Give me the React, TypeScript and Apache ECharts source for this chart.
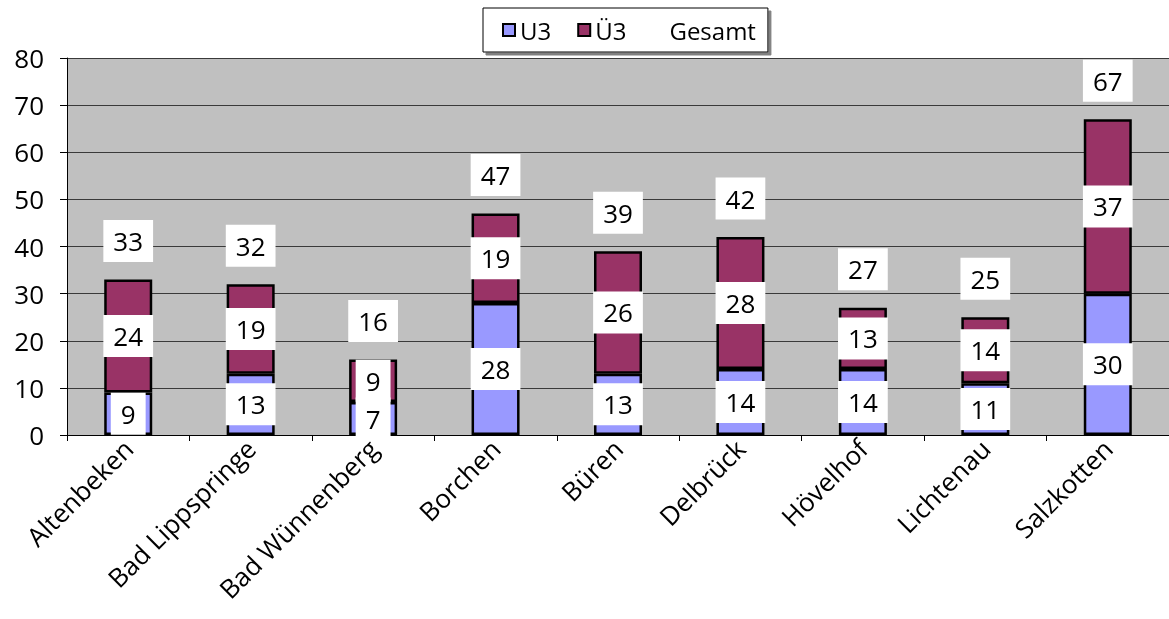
import React, { useEffect, useRef } from "react";
import * as echarts from "echarts";

const categories = [
  "Altenbeken",
  "Bad Lippspringe",
  "Bad Wünnenberg",
  "Borchen",
  "Büren",
  "Delbrück",
  "Hövelhof",
  "Lichtenau",
  "Salzkotten",
];
const u3 = [9, 13, 7, 28, 13, 14, 14, 11, 30];
const ue3 = [24, 19, 9, 19, 26, 28, 13, 14, 37];
const gesamt = [33, 32, 16, 47, 39, 42, 27, 25, 67];

const FONT = "Open Sans";

export default function App() {
  const ref = useRef<HTMLDivElement>(null);
  useEffect(() => {
    if (!ref.current) return;
    const chart = echarts.init(ref.current, undefined, { renderer: "svg" });
    const boxLabel = {
      show: true,
      color: "#000",
      fontSize: 26,
      fontFamily: FONT,
      backgroundColor: "#fff",
      padding: [8, 10],
      lineHeight: 26,
    };
    chart.setOption({
      animation: false,
      textStyle: { fontFamily: FONT },
      legend: {
        left: 483,
        top: 8,
        z: 5,
        backgroundColor: "#fff",
        borderColor: "#000",
        borderWidth: 1,
        borderRadius: 0,
        shadowColor: "#808080",
        shadowBlur: 0,
        shadowOffsetX: 3,
        shadowOffsetY: 3,
        padding: [10, 12, 10, 19],
        itemWidth: 12,
        itemHeight: 12,
        itemGap: 26,
        textStyle: { color: "#000", fontSize: 24, fontFamily: FONT },
        data: [
          { name: "U3", icon: "rect", itemStyle: { borderColor: "#000", borderWidth: 2 } },
          { name: "Ü3", icon: "rect", itemStyle: { borderColor: "#000", borderWidth: 2 } },
          { name: "Gesamt", icon: "rect", itemStyle: { color: "rgba(0,0,0,0)", borderWidth: 0 } },
        ],
      },
      grid: {
        left: 67,
        top: 58,
        width: 1106,
        bottom: 184,
        show: true,
        backgroundColor: "#C0C0C0",
        borderWidth: 0,
      },
      xAxis: {
        type: "category",
        data: categories,
        axisLine: { lineStyle: { color: "#000", width: 1 } },
        axisTick: { show: true, length: 6, lineStyle: { color: "#000" } },
        axisLabel: {
          rotate: 45,
          fontSize: 26,
          color: "#000",
          fontFamily: FONT,
          margin: 9,
          interval: 0,
        },
      },
      yAxis: {
        type: "value",
        min: 0,
        max: 80,
        interval: 10,
        axisLine: { show: true, lineStyle: { color: "#000", width: 1 } },
        axisTick: { show: true, length: 7, lineStyle: { color: "#000" } },
        axisLabel: { fontSize: 26, color: "#000", fontFamily: FONT, margin: 23 },
        splitLine: { show: true, lineStyle: { color: "#3a3a3a", width: 1 } },
      },
      series: [
        {
          name: "U3",
          type: "bar",
          stack: "a",
          barWidth: 48,
          data: u3,
          itemStyle: { color: "#9999FF", borderColor: "#000", borderWidth: 2.5 },
          label: { ...boxLabel, position: "inside" },
        },
        {
          name: "Ü3",
          type: "bar",
          stack: "a",
          barWidth: 48,
          data: ue3,
          itemStyle: { color: "#993366", borderColor: "#000", borderWidth: 2.5 },
          label: { ...boxLabel, position: "inside" },
        },
        {
          name: "Gesamt",
          type: "line",
          data: gesamt,
          symbol: "circle",
          symbolSize: 1,
          showSymbol: true,
          lineStyle: { width: 0, opacity: 0 },
          itemStyle: { color: "rgba(0,0,0,0)" },
          label: { ...boxLabel, position: "top", distance: 17 },
          z: 10,
        },
      ],
    });
    return () => chart.dispose();
  }, []);
  return (
    <div
      ref={ref}
      style={{ position: "fixed", left: 0, top: 0, width: 1169, height: 619 }}
    />
  );
}
